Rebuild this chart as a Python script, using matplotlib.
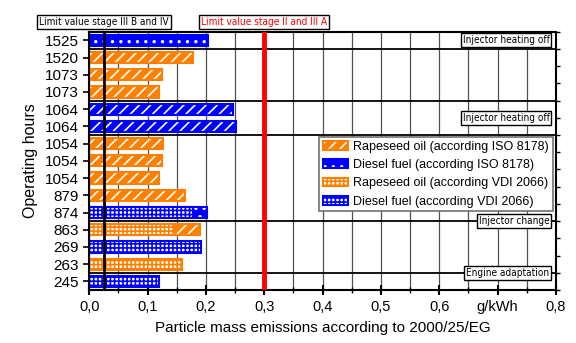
import numpy as np
import matplotlib
matplotlib.use('Agg')
import matplotlib.pyplot as plt
from matplotlib import font_manager
from matplotlib.patches import Patch
from matplotlib.legend_handler import HandlerTuple
from matplotlib.ticker import FixedLocator, MultipleLocator

plt.rcParams['font.family'] = ['Liberation Sans', 'DejaVu Sans']
plt.rcParams['hatch.linewidth'] = 1.2

nan = np.nan
# rows from bottom to top
hours = ['245', '263', '269', '863', '874', '879', '1054', '1054', '1054',
         '1064', '1064', '1073', '1073', '1520', '1525']
rapeseed_iso = [nan, nan, nan, 0.189, nan, 0.164, 0.120, 0.125, 0.127,
                nan, nan, 0.120, 0.125, 0.178, nan]
diesel_iso = [nan, nan, nan, nan, 0.202, nan, nan, nan, nan,
              nan, nan, nan, nan, nan, 0.204]
diesel_iso_heating_off = [nan, nan, nan, nan, nan, nan, nan, nan, nan,
                          0.252, 0.247, nan, nan, nan, nan]
rapeseed_vdi = [nan, 0.159, nan, 0.147, nan, nan, nan, nan, nan,
                nan, nan, nan, nan, nan, nan]
diesel_vdi = [0.120, nan, 0.191, nan, 0.178, nan, nan, nan, nan,
              nan, nan, nan, nan, nan, nan]

legend_labels = ['Rapeseed oil (according ISO 8178)', 'Diesel fuel (according ISO 8178)',
                 'Rapeseed oil (according VDI 2066)', 'Diesel fuel (according VDI 2066)']
limit_values = [0.025, 0.3]
limit_labels = ['Limit value stage III B and IV', 'Limit value stage II and III A']
event_labels = ['Injector heating off', 'Injector heating off', 'Injector change', 'Engine adaptation']
event_rows = [14.0, 9.5, 3.5, 0.5]
separator_rows = [13.5, 10.5, 8.5, 3.5, 0.5]
xtick_values = [0.0, 0.1, 0.2, 0.3, 0.4, 0.5, 0.6, 0.7, 0.8]
xtick_labels = ['0,0', '0,1', '0,2', '0,3', '0,4', '0,5', '0,6', 'g/kWh', '0,8']

ORANGE = '#ff8000'
BLUE = '#0000ff'
BAR_H = 0.65

# narrow font for the small boxed notes, if there is one
note_font = dict(family=['Liberation Sans'], fontsize=7)
try:
    font_manager.findfont(font_manager.FontProperties(family='Liberation Sans Narrow'),
                          fallback_to_default=False)
    note_font = dict(family=['Liberation Sans Narrow', 'Liberation Sans'], fontsize=8.3)
except Exception:
    p = font_manager.findfont(font_manager.FontProperties(family='DejaVu Sans', stretch='condensed'))
    if 'Condensed' in p:
        note_font = dict(family=['DejaVu Sans'], stretch='condensed', fontsize=7.2)

fig = plt.figure(figsize=(5.76, 3.43), dpi=100)
ax = fig.add_axes([0.155, 0.1545, 0.81, 0.753])
y = np.arange(len(hours))


def draw_bars(values, color, hatch, hatch_on_color, z):
    vals = np.array(values, dtype=float)
    ok = ~np.isnan(vals)
    if hatch_on_color:
        # coloured fill with white pattern
        ax.barh(y[ok], vals[ok], height=BAR_H, color=color, edgecolor='white',
                hatch=hatch, linewidth=0, zorder=z)
    else:
        ax.barh(y[ok], vals[ok], height=BAR_H, color='white', edgecolor=color,
                hatch=hatch, linewidth=0, zorder=z)
    ax.barh(y[ok], vals[ok], height=BAR_H, fill=False, edgecolor=color,
            linewidth=1.5, zorder=z + 0.01)


draw_bars(rapeseed_iso, ORANGE, '///', True, 2)
draw_bars(diesel_iso_heating_off, BLUE, '///', True, 2)
draw_bars(diesel_iso, BLUE, '..', True, 2)
draw_bars(rapeseed_vdi, ORANGE, '++++', False, 2.1)
draw_bars(diesel_vdi, BLUE, '++++', False, 2.1)

# limit lines
ax.axvline(limit_values[0], color='black', lw=2, zorder=3)
ax.axvline(limit_values[1], color='#ff0000', lw=3.5, zorder=3)
for xv, lab, col in zip(limit_values, limit_labels, ['black', '#ff0000']):
    ax.text(xv, 1.037, lab, transform=ax.get_xaxis_transform(), ha='center', va='center',
            color=col, clip_on=False, **note_font,
            bbox=dict(boxstyle='square,pad=0.2', fc='white', ec='black', lw=1))

# group separators and event boxes
for r in separator_rows:
    ax.axhline(r, color='black', lw=1.3, zorder=1.5)
for r, lab in zip(event_rows, event_labels):
    ax.text(0.789, r, lab, ha='right', va='center', zorder=5, **note_font,
            bbox=dict(boxstyle='square,pad=0.2', fc='white', ec='black', lw=1))

ax.set_xlim(0, 0.8)
ax.set_ylim(-0.5, len(hours) - 0.5)
ax.set_yticks(y)
ax.set_yticklabels(hours, fontsize=11)
ax.set_xticks(xtick_values)
ax.set_xticklabels(xtick_labels, fontsize=10.5)
ax.xaxis.set_minor_locator(MultipleLocator(0.05))
ax.yaxis.set_minor_locator(FixedLocator(np.arange(-0.5, len(hours), 0.5)))
ax.grid(axis='x', which='both', color='#505050', lw=0.9, zorder=0.5)
ax.set_axisbelow(True)
ax.tick_params(axis='x', which='major', direction='inout', length=7, width=1.5, pad=4)
ax.tick_params(axis='x', which='minor', direction='inout', length=4, width=1)
ax.tick_params(axis='y', which='major', left=True, right=False, direction='out', length=4, width=1.2)
ax.tick_params(axis='y', which='minor', left=False, right=True, direction='out', length=3, width=1)
for s in ax.spines.values():
    s.set_linewidth(1.5)

ax.set_xlabel('Particle mass emissions according to 2000/25/EG', fontsize=11, labelpad=5)
ax.set_ylabel('Operating hours', fontsize=11.5, labelpad=5)

handles = [
    (Patch(fc=ORANGE, ec='white', hatch='///', lw=0), Patch(fill=False, ec=ORANGE, lw=1.5)),
    (Patch(fc=BLUE, ec='white', hatch='..', lw=0), Patch(fill=False, ec=BLUE, lw=1.5)),
    (Patch(fc='white', ec=ORANGE, hatch='++++', lw=0), Patch(fill=False, ec=ORANGE, lw=1.5)),
    (Patch(fc='white', ec=BLUE, hatch='++++', lw=0), Patch(fill=False, ec=BLUE, lw=1.5)),
]
leg = ax.legend(handles, legend_labels, handler_map={tuple: HandlerTuple(ndivide=1, pad=0)},
                loc='upper right', bbox_to_anchor=(0.993, 0.592), fontsize=9,
                fancybox=False, framealpha=1, edgecolor='#707070', borderpad=0.3,
                labelspacing=0.5, handlelength=2.0, handleheight=0.7, handletextpad=0.4,
                borderaxespad=0)
leg.get_frame().set_linewidth(1.2)
leg.set_zorder(6)

fig.savefig('out.png', dpi=100)
